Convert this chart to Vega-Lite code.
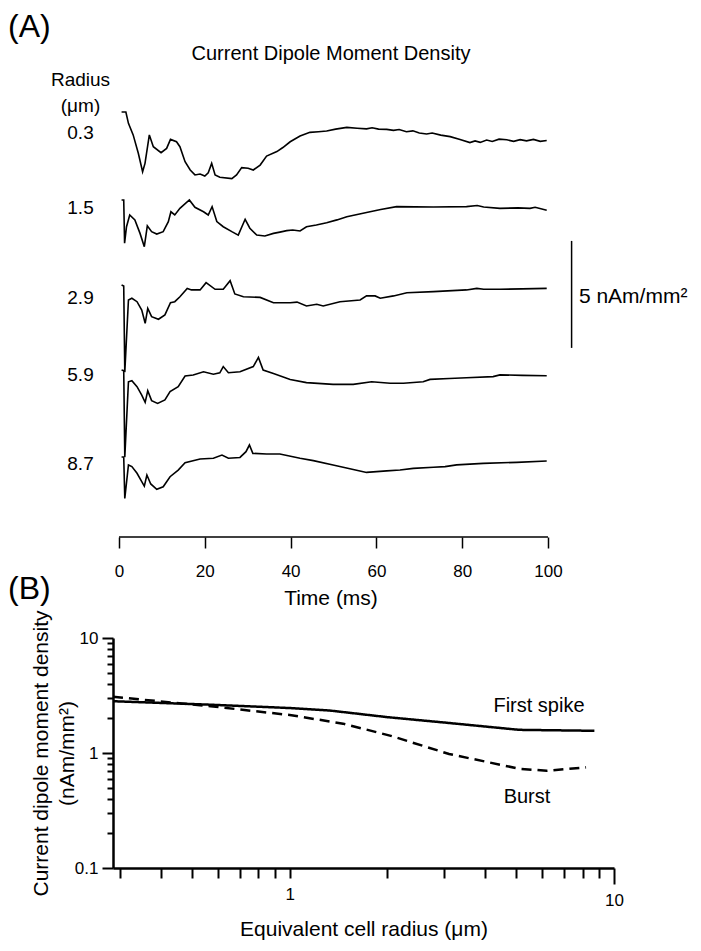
{
  "$schema": "https://vega.github.io/schema/vega-lite/v6.json",
  "background": "white",
  "padding": {"left": 8, "top": 11, "right": 5, "bottom": 5},
  "config": {
    "view": {"stroke": null},
    "font": "Liberation Sans",
    "axis": {"grid": false, "domainColor": "black", "tickColor": "black", "labelColor": "black", "titleColor": "black", "titleFontWeight": "normal", "labelFontSize": 17, "titleFontSize": 21, "labelFont": "Liberation Sans", "titleFont": "Liberation Sans"},
    "title": {"fontWeight": "normal", "color": "black", "font": "Liberation Sans"},
    "text": {"font": "Liberation Sans", "color": "black"}
  },
  "datasets": {
    "traces": [
      {"r":"0.3","t":0.6,"v":0},{"r":"0.3","t":1.6,"v":0},{"r":"0.3","t":2.2,"v":-0.53},{"r":"0.3","t":3.3,"v":-1.07},{"r":"0.3","t":4.5,"v":-1.93},{"r":"0.3","t":5.5,"v":-2.79},{"r":"0.3","t":6.06,"v":-2.4},{"r":"0.3","t":7.07,"v":-1.07},{"r":"0.3","t":8.0,"v":-1.62},{"r":"0.3","t":9.8,"v":-1.9},{"r":"0.3","t":11.1,"v":-1.7},{"r":"0.3","t":12.0,"v":-1.28},{"r":"0.3","t":13.4,"v":-1.39},{"r":"0.3","t":14.2,"v":-1.62},{"r":"0.3","t":15.4,"v":-2.32},{"r":"0.3","t":16.6,"v":-2.71},{"r":"0.3","t":17.7,"v":-2.94},{"r":"0.3","t":18.9,"v":-2.9},{"r":"0.3","t":20.0,"v":-2.99},{"r":"0.3","t":20.8,"v":-2.84},{"r":"0.3","t":21.6,"v":-2.4},{"r":"0.3","t":22.4,"v":-2.94},{"r":"0.3","t":23.5,"v":-3.05},{"r":"0.3","t":26.3,"v":-3.11},{"r":"0.3","t":27.4,"v":-2.94},{"r":"0.3","t":28.6,"v":-2.6},{"r":"0.3","t":30.1,"v":-2.63},{"r":"0.3","t":31.3,"v":-2.71},{"r":"0.3","t":32.9,"v":-2.48},{"r":"0.3","t":34.4,"v":-2.06},{"r":"0.3","t":36.8,"v":-1.85},{"r":"0.3","t":38.2,"v":-1.66},{"r":"0.3","t":39.9,"v":-1.39},{"r":"0.3","t":42.2,"v":-1.12},{"r":"0.3","t":44.5,"v":-0.95},{"r":"0.3","t":46.5,"v":-0.92},{"r":"0.3","t":48.4,"v":-0.89},{"r":"0.3","t":50.5,"v":-0.8},{"r":"0.3","t":53.1,"v":-0.72},{"r":"0.3","t":55.5,"v":-0.76},{"r":"0.3","t":57.7,"v":-0.79},{"r":"0.3","t":59.0,"v":-0.74},{"r":"0.3","t":60.5,"v":-0.8},{"r":"0.3","t":62.4,"v":-0.81},{"r":"0.3","t":64.0,"v":-0.86},{"r":"0.3","t":65.3,"v":-0.82},{"r":"0.3","t":67.0,"v":-0.92},{"r":"0.3","t":68.5,"v":-0.88},{"r":"0.3","t":70.0,"v":-0.98},{"r":"0.3","t":71.7,"v":-1.03},{"r":"0.3","t":73.0,"v":-0.98},{"r":"0.3","t":75.0,"v":-1.08},{"r":"0.3","t":77.2,"v":-1.15},{"r":"0.3","t":79.5,"v":-1.28},{"r":"0.3","t":81.8,"v":-1.43},{"r":"0.3","t":83.0,"v":-1.35},{"r":"0.3","t":84.2,"v":-1.42},{"r":"0.3","t":85.7,"v":-1.31},{"r":"0.3","t":87.0,"v":-1.38},{"r":"0.3","t":88.6,"v":-1.27},{"r":"0.3","t":90.4,"v":-1.3},{"r":"0.3","t":92.0,"v":-1.37},{"r":"0.3","t":93.5,"v":-1.29},{"r":"0.3","t":95.0,"v":-1.35},{"r":"0.3","t":96.6,"v":-1.28},{"r":"0.3","t":98.2,"v":-1.37},{"r":"0.3","t":99.7,"v":-1.33},
      {"r":"1.5","t":0.6,"v":0},{"r":"1.5","t":1.1,"v":0},{"r":"1.5","t":1.3,"v":-2.02},{"r":"1.5","t":1.75,"v":-1.25},{"r":"1.5","t":2.5,"v":-0.7},{"r":"1.5","t":3.7,"v":-0.93},{"r":"1.5","t":4.9,"v":-1.56},{"r":"1.5","t":5.9,"v":-2.18},{"r":"1.5","t":6.6,"v":-1.21},{"r":"1.5","t":7.6,"v":-1.48},{"r":"1.5","t":8.8,"v":-1.59},{"r":"1.5","t":10.3,"v":-1.48},{"r":"1.5","t":11.5,"v":-1.01},{"r":"1.5","t":12.1,"v":-0.55},{"r":"1.5","t":13.0,"v":-0.7},{"r":"1.5","t":14.2,"v":-0.39},{"r":"1.5","t":16.4,"v":0.0},{"r":"1.5","t":17.7,"v":-0.34},{"r":"1.5","t":19.7,"v":-0.55},{"r":"1.5","t":20.8,"v":-0.7},{"r":"1.5","t":21.7,"v":-0.31},{"r":"1.5","t":22.8,"v":-1.01},{"r":"1.5","t":24.3,"v":-1.25},{"r":"1.5","t":26.3,"v":-1.48},{"r":"1.5","t":27.8,"v":-1.64},{"r":"1.5","t":29.4,"v":-0.9},{"r":"1.5","t":30.5,"v":-1.32},{"r":"1.5","t":32.1,"v":-1.64},{"r":"1.5","t":34.0,"v":-1.68},{"r":"1.5","t":36.0,"v":-1.56},{"r":"1.5","t":37.5,"v":-1.5},{"r":"1.5","t":39.1,"v":-1.43},{"r":"1.5","t":40.5,"v":-1.4},{"r":"1.5","t":42.2,"v":-1.45},{"r":"1.5","t":43.7,"v":-1.25},{"r":"1.5","t":46.0,"v":-1.17},{"r":"1.5","t":48.4,"v":-1.06},{"r":"1.5","t":50.8,"v":-0.93},{"r":"1.5","t":53.1,"v":-0.78},{"r":"1.5","t":57.7,"v":-0.58},{"r":"1.5","t":61.0,"v":-0.44},{"r":"1.5","t":64.7,"v":-0.31},{"r":"1.5","t":73.3,"v":-0.33},{"r":"1.5","t":81.0,"v":-0.31},{"r":"1.5","t":83.5,"v":-0.26},{"r":"1.5","t":85.0,"v":-0.33},{"r":"1.5","t":88.8,"v":-0.39},{"r":"1.5","t":93.0,"v":-0.37},{"r":"1.5","t":95.8,"v":-0.39},{"r":"1.5","t":97.0,"v":-0.34},{"r":"1.5","t":99.7,"v":-0.48},
      {"r":"2.9","t":0.6,"v":0},{"r":"2.9","t":1.1,"v":-0.05},{"r":"2.9","t":1.35,"v":-4.07},{"r":"2.9","t":2.2,"v":-0.7},{"r":"2.9","t":3.0,"v":-0.62},{"r":"2.9","t":4.2,"v":-0.78},{"r":"2.9","t":5.3,"v":-1.17},{"r":"2.9","t":6.1,"v":-1.79},{"r":"2.9","t":6.7,"v":-1.09},{"r":"2.9","t":7.6,"v":-1.48},{"r":"2.9","t":9.2,"v":-1.6},{"r":"2.9","t":10.7,"v":-1.4},{"r":"2.9","t":12.0,"v":-0.83},{"r":"2.9","t":13.0,"v":-0.78},{"r":"2.9","t":14.2,"v":-0.55},{"r":"2.9","t":15.9,"v":-0.16},{"r":"2.9","t":16.9,"v":-0.23},{"r":"2.9","t":18.9,"v":-0.23},{"r":"2.9","t":20.3,"v":0.11},{"r":"2.9","t":22.4,"v":-0.2},{"r":"2.9","t":24.3,"v":-0.2},{"r":"2.9","t":25.9,"v":0.2},{"r":"2.9","t":27.0,"v":-0.42},{"r":"2.9","t":29.0,"v":-0.55},{"r":"2.9","t":32.9,"v":-0.58},{"r":"2.9","t":36.0,"v":-0.83},{"r":"2.9","t":39.9,"v":-0.83},{"r":"2.9","t":41.5,"v":-0.8},{"r":"2.9","t":43.7,"v":-0.98},{"r":"2.9","t":46.1,"v":-0.9},{"r":"2.9","t":47.6,"v":-0.98},{"r":"2.9","t":51.5,"v":-0.78},{"r":"2.9","t":56.2,"v":-0.7},{"r":"2.9","t":57.7,"v":-0.51},{"r":"2.9","t":59.7,"v":-0.51},{"r":"2.9","t":60.9,"v":-0.62},{"r":"2.9","t":64.0,"v":-0.51},{"r":"2.9","t":67.1,"v":-0.36},{"r":"2.9","t":73.3,"v":-0.31},{"r":"2.9","t":81.0,"v":-0.23},{"r":"2.9","t":83.4,"v":-0.16},{"r":"2.9","t":85.0,"v":-0.2},{"r":"2.9","t":88.8,"v":-0.2},{"r":"2.9","t":94.0,"v":-0.18},{"r":"2.9","t":99.7,"v":-0.16},
      {"r":"5.9","t":0.6,"v":0},{"r":"5.9","t":1.1,"v":-0.03},{"r":"5.9","t":1.35,"v":-4.07},{"r":"5.9","t":2.2,"v":-0.55},{"r":"5.9","t":3.0,"v":-0.5},{"r":"5.9","t":4.2,"v":-0.78},{"r":"5.9","t":5.3,"v":-1.17},{"r":"5.9","t":6.1,"v":-1.51},{"r":"5.9","t":6.7,"v":-0.97},{"r":"5.9","t":7.6,"v":-1.43},{"r":"5.9","t":9.0,"v":-1.56},{"r":"5.9","t":10.7,"v":-1.4},{"r":"5.9","t":11.9,"v":-1.01},{"r":"5.9","t":13.8,"v":-0.78},{"r":"5.9","t":15.4,"v":-0.28},{"r":"5.9","t":17.3,"v":-0.23},{"r":"5.9","t":19.7,"v":-0.08},{"r":"5.9","t":22.0,"v":-0.2},{"r":"5.9","t":23.5,"v":-0.13},{"r":"5.9","t":24.3,"v":0.16},{"r":"5.9","t":25.5,"v":-0.13},{"r":"5.9","t":28.2,"v":-0.08},{"r":"5.9","t":31.3,"v":0.16},{"r":"5.9","t":32.5,"v":0.59},{"r":"5.9","t":33.6,"v":0.0},{"r":"5.9","t":36.0,"v":-0.16},{"r":"5.9","t":39.9,"v":-0.44},{"r":"5.9","t":43.7,"v":-0.59},{"r":"5.9","t":49.9,"v":-0.67},{"r":"5.9","t":54.6,"v":-0.67},{"r":"5.9","t":58.9,"v":-0.55},{"r":"5.9","t":63.2,"v":-0.62},{"r":"5.9","t":66.3,"v":-0.62},{"r":"5.9","t":70.9,"v":-0.55},{"r":"5.9","t":72.5,"v":-0.44},{"r":"5.9","t":77.0,"v":-0.4},{"r":"5.9","t":81.0,"v":-0.36},{"r":"5.9","t":87.2,"v":-0.31},{"r":"5.9","t":88.8,"v":-0.23},{"r":"5.9","t":94.0,"v":-0.25},{"r":"5.9","t":99.7,"v":-0.27},
      {"r":"8.7","t":0.6,"v":0},{"r":"8.7","t":1.1,"v":0},{"r":"8.7","t":1.35,"v":-1.94},{"r":"8.7","t":2.2,"v":-0.37},{"r":"8.7","t":3.0,"v":-0.45},{"r":"8.7","t":4.2,"v":-0.76},{"r":"8.7","t":5.3,"v":-1.15},{"r":"8.7","t":5.9,"v":-1.36},{"r":"8.7","t":6.5,"v":-0.84},{"r":"8.7","t":7.4,"v":-1.26},{"r":"8.7","t":8.8,"v":-1.51},{"r":"8.7","t":10.3,"v":-1.39},{"r":"8.7","t":11.9,"v":-0.92},{"r":"8.7","t":13.8,"v":-0.61},{"r":"8.7","t":15.4,"v":-0.27},{"r":"8.7","t":18.9,"v":-0.09},{"r":"8.7","t":22.0,"v":-0.06},{"r":"8.7","t":24.0,"v":0.09},{"r":"8.7","t":25.5,"v":-0.06},{"r":"8.7","t":28.2,"v":-0.02},{"r":"8.7","t":29.6,"v":0.25},{"r":"8.7","t":30.4,"v":0.56},{"r":"8.7","t":31.2,"v":0.17},{"r":"8.7","t":34.4,"v":0.14},{"r":"8.7","t":37.5,"v":0.14},{"r":"8.7","t":42.2,"v":-0.06},{"r":"8.7","t":45.3,"v":-0.17},{"r":"8.7","t":49.9,"v":-0.37},{"r":"8.7","t":54.6,"v":-0.58},{"r":"8.7","t":57.7,"v":-0.72},{"r":"8.7","t":62.4,"v":-0.65},{"r":"8.7","t":65.5,"v":-0.61},{"r":"8.7","t":68.6,"v":-0.53},{"r":"8.7","t":73.3,"v":-0.48},{"r":"8.7","t":76.0,"v":-0.45},{"r":"8.7","t":78.7,"v":-0.37},{"r":"8.7","t":84.9,"v":-0.3},{"r":"8.7","t":92.7,"v":-0.25},{"r":"8.7","t":99.7,"v":-0.19}
    ],
    "summary": [
      {"series":"First spike","radius":0.285,"d":2.82},{"series":"First spike","radius":0.57,"d":2.63},{"series":"First spike","radius":1.0,"d":2.46},{"series":"First spike","radius":1.33,"d":2.34},{"series":"First spike","radius":2.0,"d":2.05},{"series":"First spike","radius":3.0,"d":1.84},{"series":"First spike","radius":5.1,"d":1.59},{"series":"First spike","radius":8.7,"d":1.56},
      {"series":"Burst","radius":0.285,"d":3.08},{"series":"Burst","radius":0.57,"d":2.55},{"series":"Burst","radius":1.0,"d":2.14},{"series":"Burst","radius":1.46,"d":1.8},{"series":"Burst","radius":2.05,"d":1.41},{"series":"Burst","radius":3.1,"d":0.98},{"series":"Burst","radius":5.1,"d":0.73},{"series":"Burst","radius":6.2,"d":0.7},{"series":"Burst","radius":8.2,"d":0.75}
    ]
  },
  "align": "none",
  "spacing": -35,
  "vconcat": [
    {
      "spacing": 0,
      "bounds": "flush",
      "vconcat": [
        {
          "width": 435, "height": 86,
          "title": {"text": "(A)", "anchor": "start", "frame": "group", "fontSize": 32, "dx": -105, "offset": -1},
          "data": {"name": "traces"},
          "transform": [{"filter": "datum.r == '0.3'"}],
          "mark": {"type": "line", "color": "black", "strokeWidth": 1.6, "clip": false},
          "encoding": {
            "x": {"field": "t", "type": "quantitative", "scale": {"domain": [-1.4, 100], "nice": false},
              "axis": {"orient": "top", "domain": false, "ticks": false, "labels": false, "title": "Current Dipole Moment Density", "titleFontSize": 20, "titlePadding": 37}},
            "y": {"field": "v", "type": "quantitative", "scale": {"domain": [-3.458, 0.561], "nice": false, "zero": false},
              "axis": {"domain": false, "ticks": false, "labels": false, "title": ["Radius", "(μm)", "0.3"], "titleAngle": 0, "titleAlign": "center", "titleBaseline": "top", "titleX": -33, "titleY": -30, "titleLineHeight": 26.5, "titleFontSize": 19}}
          }
        },
        {
          "width": 435, "height": 85,
          "data": {"name": "traces"},
          "transform": [{"filter": "datum.r == '1.5'"}],
          "mark": {"type": "line", "color": "black", "strokeWidth": 1.6, "clip": false},
          "encoding": {
            "x": {"field": "t", "type": "quantitative", "scale": {"domain": [-1.4, 100], "nice": false}, "axis": null},
            "y": {"field": "v", "type": "quantitative", "scale": {"domain": [-3.318, 0.654], "nice": false, "zero": false},
              "axis": {"domain": false, "ticks": false, "labels": false, "title": "1.5", "titleAngle": 0, "titleAlign": "center", "titleBaseline": "middle", "titleX": -33, "titleY": 21, "titleFontSize": 19}}
          }
        },
        {
          "width": 435, "height": 85,
          "layer": [
            {
              "data": {"name": "traces"},
              "transform": [{"filter": "datum.r == '2.9'"}],
              "mark": {"type": "line", "color": "black", "strokeWidth": 1.6, "clip": false},
              "encoding": {
                "x": {"field": "t", "type": "quantitative", "scale": {"domain": [-1.4, 100], "nice": false}, "axis": null},
                "y": {"field": "v", "type": "quantitative", "scale": {"domain": [-3.318, 0.654], "nice": false, "zero": false},
                  "axis": {"domain": false, "ticks": false, "labels": false, "title": "2.9", "titleAngle": 0, "titleAlign": "center", "titleBaseline": "middle", "titleX": -33, "titleY": 26, "titleFontSize": 19}}
              }
            },
            {
              "data": {"values": [{}]},
              "mark": {"type": "rule", "color": "black", "strokeWidth": 1.5, "clip": false},
              "encoding": {"x": {"datum": 105.5}, "y": {"datum": -2.94}, "y2": {"datum": 2.06}}
            },
            {
              "data": {"values": [{}]},
              "mark": {"type": "text", "align": "left", "baseline": "middle", "fontSize": 21, "clip": false},
              "encoding": {"x": {"datum": 107.2}, "y": {"datum": -0.56}, "text": {"value": "5 nAm/mm²"}}
            }
          ]
        },
        {
          "width": 435, "height": 87,
          "data": {"name": "traces"},
          "transform": [{"filter": "datum.r == '5.9'"}],
          "mark": {"type": "line", "color": "black", "strokeWidth": 1.6, "clip": false},
          "encoding": {
            "x": {"field": "t", "type": "quantitative", "scale": {"domain": [-1.4, 100], "nice": false}, "axis": null},
            "y": {"field": "v", "type": "quantitative", "scale": {"domain": [-3.411, 0.654], "nice": false, "zero": false},
              "axis": {"domain": false, "ticks": false, "labels": false, "title": "5.9", "titleAngle": 0, "titleAlign": "center", "titleBaseline": "middle", "titleX": -33, "titleY": 18, "titleFontSize": 19}}
          }
        },
        {
          "width": 435, "height": 94,
          "layer": [
            {
              "data": {"name": "traces"},
              "transform": [{"filter": "datum.r == '8.7'"}],
              "mark": {"type": "line", "color": "black", "strokeWidth": 1.6, "clip": false},
              "encoding": {
                "x": {"field": "t", "type": "quantitative", "scale": {"domain": [-1.4, 100], "nice": false},
                  "axis": {"orient": "bottom", "domain": false, "values": [0, 20, 40, 60, 80, 100], "tickSize": 11, "tickWidth": 1.5, "labelPadding": 15, "labelFlush": false, "title": "Time (ms)", "titlePadding": 8}},
                "y": {"field": "v", "type": "quantitative", "scale": {"domain": [-3.738, 0.654], "nice": false, "zero": false},
                  "axis": {"domain": false, "ticks": false, "labels": false, "title": "8.7", "titleAngle": 0, "titleAlign": "center", "titleBaseline": "middle", "titleX": -33, "titleY": 20, "titleFontSize": 19}}
              }
            },
            {
              "data": {"values": [{}]},
              "mark": {"type": "rule", "color": "black", "strokeWidth": 1.5, "clip": false},
              "encoding": {"x": {"datum": 0}, "x2": {"datum": 100}, "y": {"datum": -3.738}}
            }
          ]
        }
      ]
    },
    {
      "width": 501, "height": 230,
      "title": {"text": "(B)", "anchor": "start", "frame": "group", "fontSize": 32, "dx": -105, "offset": 4},
      "layer": [
        {
          "data": {"name": "summary"},
          "mark": {"type": "line", "color": "black", "strokeWidth": 2.5},
          "encoding": {
            "x": {"field": "radius", "type": "quantitative", "scale": {"type": "log", "domain": [0.285, 10], "nice": false},
              "axis": {"values": [0.3, 0.4, 0.5, 0.6, 0.7, 0.8, 0.9, 1, 2, 3, 4, 5, 6, 7, 8, 9, 10], "format": "~g",
                "labelExpr": "datum.value == 1 || datum.value == 10 ? datum.label : ''",
                "tickSize": {"condition": {"test": "datum.value == 10", "value": 16}, "value": 10},
                "tickWidth": 2, "domainWidth": 2.5, "labelPadding": 8, "labelFlush": false, "labelOverlap": false, "labelBound": false,
                "title": "Equivalent cell radius (μm)", "titlePadding": 10}},
            "y": {"field": "d", "type": "quantitative", "scale": {"type": "log", "domain": [0.1, 10], "nice": false},
              "axis": {"values": [0.1, 0.2, 0.3, 0.4, 0.5, 0.6, 0.7, 0.8, 0.9, 1, 2, 3, 4, 5, 6, 7, 8, 9, 10], "format": "~g",
                "labelExpr": "datum.value == 0.1 || datum.value == 1 || datum.value == 10 ? datum.label : ''",
                "tickSize": {"condition": {"test": "datum.value == 0.1 || datum.value == 1 || datum.value == 10", "value": 11}, "value": 6},
                "tickWidth": 2, "domainWidth": 2.5, "labelPadding": 4, "labelFlush": false, "labelOverlap": false, "labelBound": false,
                "title": ["Current dipole moment density", "(nAm/mm²)"], "titleLineHeight": 26, "titlePadding": -3}},
            "strokeDash": {"field": "series", "type": "nominal", "scale": {"domain": ["First spike", "Burst"], "range": [[1, 0], [10, 6]]}, "legend": null}
          }
        },
        {
          "data": {"values": [{}]},
          "mark": {"type": "text", "fontSize": 20, "align": "center", "baseline": "middle"},
          "encoding": {"x": {"datum": 5.87}, "y": {"datum": 2.58}, "text": {"value": "First spike"}}
        },
        {
          "data": {"values": [{}]},
          "mark": {"type": "text", "fontSize": 20, "align": "center", "baseline": "middle"},
          "encoding": {"x": {"datum": 5.39}, "y": {"datum": 0.414}, "text": {"value": "Burst"}}
        }
      ]
    }
  ]
}
